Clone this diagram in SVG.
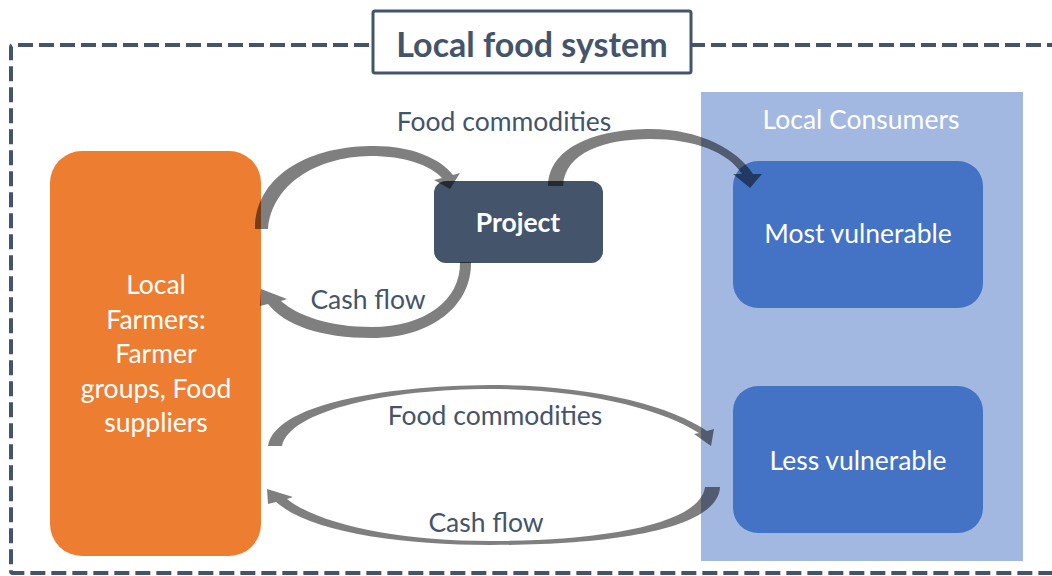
<svg xmlns="http://www.w3.org/2000/svg" width="1052" height="576" viewBox="0 0 1052 576">
  <style>
    .lbl { font-family: Lato, "Open Sans", "Liberation Sans", sans-serif; font-size: 26.5px; fill: #44546A; text-anchor: middle; }
    .wht { font-family: Lato, "Open Sans", "Liberation Sans", sans-serif; font-size: 26.5px; fill: #FFFFFF; text-anchor: middle; }
    .flow { fill: #000000; fill-opacity: 0.5; }
  </style>

  <rect width="1052" height="576" fill="#FFFFFF"/>

  <!-- dashed system boundary -->
  <path d="M 1062,45 H 13 Q 11,45 11,47 V 571 Q 11,573 13,573 H 1062" fill="none" stroke="#44546A" stroke-width="4" stroke-dasharray="15 6"/>

  <!-- title -->
  <g id="title">
    <rect x="373" y="11" width="318" height="62" rx="2" fill="#FFFFFF" stroke="#44546A" stroke-width="3"/>
    <text x="532" y="57" font-family="Lato, 'Open Sans', 'Liberation Sans', sans-serif" font-size="34" font-weight="bold" fill="#44546A" text-anchor="middle">Local food system</text>
  </g>

  <!-- consumers panel -->
  <g id="consumers">
    <rect x="701" y="92" width="322" height="469" fill="#A2B8E0"/>
    <text class="wht" x="861" y="129">Local Consumers</text>
  </g>

  <g id="farmers">
    <rect x="50" y="151" width="211" height="405" rx="32" fill="#ED7D31"/>
    <text class="wht" x="156" y="294">Local</text>
    <text class="wht" x="156" y="329">Farmers:</text>
    <text class="wht" x="156" y="363">Farmer</text>
    <text class="wht" x="156" y="398">groups, Food</text>
    <text class="wht" x="156" y="432">suppliers</text>
  </g>

  <g id="project">
    <rect x="434" y="181" width="169" height="82" rx="12" fill="#44546A"/>
    <text class="wht" x="518" y="232" font-weight="bold">Project</text>
  </g>

  <g id="most-vulnerable">
    <rect x="733" y="161" width="250" height="147" rx="25" fill="#4472C4"/>
    <text class="wht" x="858" y="243">Most vulnerable</text>
  </g>

  <g id="less-vulnerable">
    <rect x="733" y="386" width="250" height="147" rx="25" fill="#4472C4"/>
    <text class="wht" x="858" y="470">Less vulnerable</text>
  </g>

  <!-- curved flow arrows -->
  <g id="connectors">
    <!-- farmers to project -->
    <path class="flow" d="M 255,229 C 255,178 305,147 370,146 C 410,145 440,158 453,175 L 460,173 L 450,189 L 434,180 L 442,178 C 430,165 405,156 370,156 C 315,157 272,185 268,229 Z"/>
    <!-- project back to farmers -->
    <path class="flow" d="M 460,262 C 461,300 425,327 372,327 C 330,327 298,316 281,301 L 287,299 L 261,289 L 260,306 L 268,304 C 285,325 320,338 372,338 C 432,338 472,305 471,262 Z"/>
    <!-- project to most vulnerable -->
    <path class="flow" d="M 548,186 C 549,145 600,129 650,129 C 700,129 738,150 753,174 L 762,174 L 750,188 L 733,174 L 742,174 C 728,152 695,139 650,139 C 605,139 565,152 563,186 Z"/>
    <!-- farmers to less vulnerable -->
    <path class="flow" d="M 268,446 C 275,405 380,386 490,385 C 590,385 670,405 707,431 L 714,429 L 711,446 L 694,434 L 699,433 C 665,411 590,389 490,389 C 390,389 290,410 282,446 Z"/>
    <!-- less vulnerable back to farmers -->
    <path class="flow" d="M 705,487 C 700,525 600,541 490,541 C 400,541 320,525 287,499 L 293,497 L 267,489 L 268,504 L 276,502 C 310,532 400,545 490,545 C 610,545 718,530 720,487 Z"/>
  </g>

  <!-- flow labels -->
  <text class="lbl" x="504" y="131">Food commodities</text>
  <text class="lbl" x="368" y="309">Cash flow</text>
  <text class="lbl" x="495" y="425">Food commodities</text>
  <text class="lbl" x="486" y="532">Cash flow</text>
</svg>
